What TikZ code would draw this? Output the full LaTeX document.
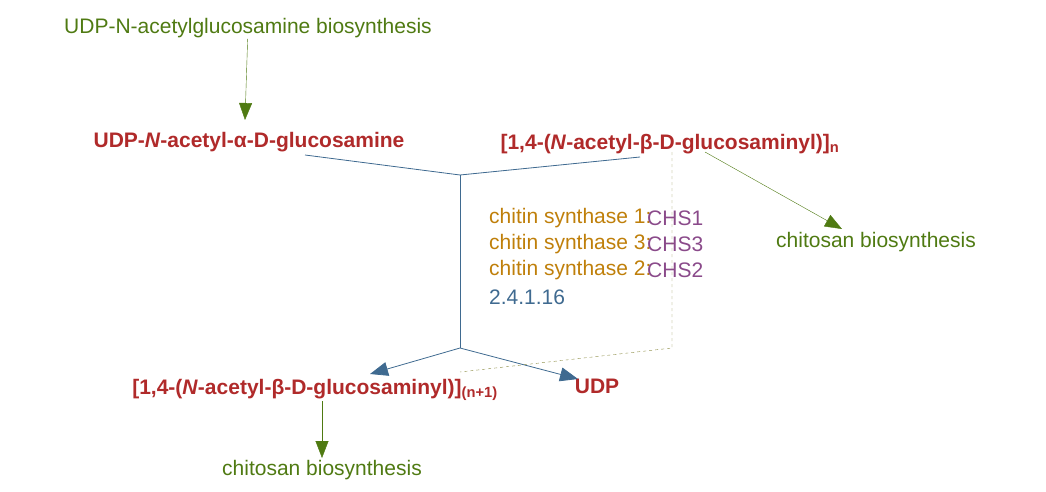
\documentclass[tikz,border=0pt]{standalone}
\usepackage{fontspec}
\setmainfont{Liberation Sans}
\usetikzlibrary{arrows.meta}
\definecolor{cpd}{HTML}{B02A2A}
\definecolor{path}{HTML}{4F7A12}
\definecolor{enz}{HTML}{BF7F0A}
\definecolor{gene}{HTML}{8A4A8A}
\definecolor{rxn}{HTML}{3F6A90}
\definecolor{dash}{HTML}{8A8A40}
\tikzset{
  cpd/.style={text=cpd,font=\fontsize{21}{24}\selectfont\bfseries,inner sep=1pt},
  pathway/.style={text=path,font=\fontsize{21}{24}\selectfont,inner sep=1pt},
  lbl/.style={font=\fontsize{21}{24}\selectfont,inner sep=1pt,anchor=west},
  toPath/.style={draw=path,-{Triangle[length=17pt,width=13pt]}},
  rxnline/.style={draw=rxn,thick},
  rxnarr/.style={draw=rxn,thick,-{Triangle[length=18pt,width=14pt]}},
}
\begin{document}
\begin{tikzpicture}[x=1pt,y=-1pt]
\useasboundingbox (0,0) rectangle (1046,492);
% compounds
\node[pathway] (udpbio) at (248,28) {UDP-N-acetylglucosamine biosynthesis};
\node[cpd] (udpglc) at (249,142) {UDP-\textit{N}-acetyl-α-D-glucosamine};
\node[cpd] (chitn) at (670,144) {[1,4-(\textit{N}-acetyl-β-D-glucosaminyl)]\textsubscript{n}};
\node[cpd] (chitn1) at (315,390) {[1,4-(\textit{N}-acetyl-β-D-glucosaminyl)]\textsubscript{(n+1)}};
\node[cpd] (udp) at (597,386) {UDP};
\node[pathway] (chitbio1) at (876,242) {chitosan biosynthesis};
\node[pathway] (chitbio2) at (322,470) {chitosan biosynthesis};
% enzymes
\node[lbl,text=enz] (e1) at (488,218) {chitin synthase 1:};
\node[lbl,text=enz] (e3) at (488,244) {chitin synthase 3:};
\node[lbl,text=enz] (e2) at (488,270) {chitin synthase 2:};
\node[lbl,text=gene] (g1) at (646,218) {CHS1};
\node[lbl,text=gene] (g3) at (646,244) {CHS3};
\node[lbl,text=gene] (g2) at (646,270) {CHS2};
\node[lbl,text=rxn] (ec) at (488,297) {2.4.1.16};
% reaction
\coordinate (top) at (460,175);
\coordinate (bot) at (460,348);
\coordinate (dtop) at (672,152);
\coordinate (dbot) at (672,348);
\coordinate (dend) at (460,372);
\draw[toPath] (udpbio) -- (245,120);
\draw[rxnline] (305,155) -- (top);
\draw[rxnline] (640,157) -- (top);
\draw[rxnline] (top) -- (bot);
\draw[rxnarr] (bot) -- (370,374);
\draw[rxnarr] (bot) -- (578,379);
\draw[draw=dash,dashed] (dtop) -- (dbot) -- (dend);
\draw[toPath] (705,152) -- (842,229);
\draw[toPath] (322,401) -- (322,458);
\end{tikzpicture}
\end{document}
